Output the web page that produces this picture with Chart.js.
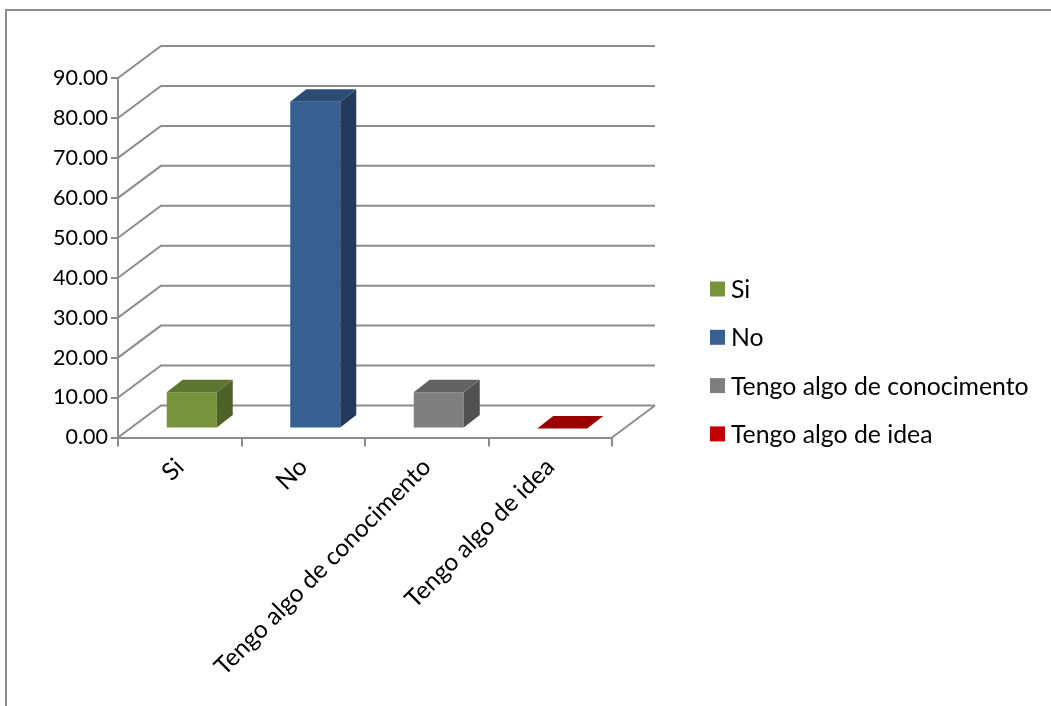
<!DOCTYPE html>
<html>
<head>
<meta charset="utf-8">
<script src="https://cdn.jsdelivr.net/npm/chart.js@4.4.0/dist/chart.umd.min.js"></script>
<style>
  html, body { margin: 0; padding: 0; background: #fff; overflow: hidden; }
</style>
</head>
<body>
<canvas id="chart" width="1051" height="706"></canvas>
<script>
/*global Chart */
const categories = ['Si', 'No', 'Tengo algo de conocimento', 'Tengo algo de idea']
const percentages = [9.09, 81.82, 9.09, 0]
const yTicks = [0, 10, 20, 30, 40, 50, 60, 70, 80, 90]

// front, top and side shading of each column
const frontColors = ['#77933C', '#366092', '#7F7F7F', '#C00000']
const topColors = ['#5D7431', '#2B4C75', '#636363', '#990000']
const sideColors = ['#4E6228', '#223B5C', '#515151', '#7A0000']

const FONT = 'Lato, "DejaVu Sans", sans-serif'
const LINE = '#8C8C8C'
const WALL = { dx: 43, dy: -32 }   // depth of the floor and walls
const FACE = { dx: 12, dy: -9 }    // columns stand a bit back from the front edge
const BOX = { dx: 16, dy: -12.5 }  // depth of each column
const LEGEND = { x: 710, y: 289, gap: 48.3, size: 15 }

const poly = (ctx, points) => {
  ctx.beginPath()
  points.forEach(([x, y], i) => i ? ctx.lineTo(x, y) : ctx.moveTo(x, y))
  ctx.closePath()
  ctx.fill()
}

const pseudo3d = {
  id: 'pseudo3d',
  beforeDraw(chart) {
    const ctx = chart.ctx
    ctx.save()
    ctx.strokeStyle = LINE
    ctx.lineWidth = 2
    ctx.beginPath()
    ctx.moveTo(6, chart.height)
    ctx.lineTo(6, 10)
    ctx.lineTo(chart.width, 10)
    ctx.stroke()
    ctx.restore()
  },
  beforeDatasetsDraw(chart) {
    const { ctx, chartArea: { left, right, bottom }, scales: { y } } = chart
    ctx.save()
    ctx.strokeStyle = LINE
    ctx.lineWidth = 2
    ctx.beginPath()
    yTicks.forEach(v => {
      const py = y.getPixelForValue(v)
      ctx.moveTo(left, py)
      ctx.lineTo(left + WALL.dx, py + WALL.dy)
      ctx.lineTo(right + WALL.dx, py + WALL.dy)
    })
    ctx.moveTo(right, bottom)
    ctx.lineTo(right + WALL.dx, bottom + WALL.dy)
    ctx.stroke()
    ctx.restore()

    // front faces get drawn by Chart.js inside this shifted frame
    ctx.save()
    ctx.translate(FACE.dx, FACE.dy)
  },
  afterDatasetsDraw(chart) {
    const ctx = chart.ctx
    chart.getDatasetMeta(0).data.forEach((bar, i) => {
      const x0 = bar.x - bar.width / 2
      const x1 = bar.x + bar.width / 2
      const top = bar.y
      const base = bar.base
      ctx.fillStyle = sideColors[i]
      poly(ctx, [[x1, top], [x1 + BOX.dx, top + BOX.dy], [x1 + BOX.dx, base + BOX.dy], [x1, base]])
      ctx.fillStyle = topColors[i]
      poly(ctx, [[x0, top], [x0 + BOX.dx, top + BOX.dy], [x1 + BOX.dx, top + BOX.dy], [x1, top]])
    })
    ctx.restore()
  },
  afterDraw(chart) {
    const ctx = chart.ctx
    ctx.save()
    ctx.font = `24.8px ${FONT}`
    ctx.textBaseline = 'middle'
    categories.forEach((label, i) => {
      const cy = LEGEND.y + i * LEGEND.gap
      ctx.fillStyle = frontColors[i]
      ctx.fillRect(LEGEND.x, cy - LEGEND.size / 2, LEGEND.size, LEGEND.size)
      ctx.fillStyle = '#000'
      ctx.fillText(label, LEGEND.x + 21, cy + 1)
    })
    ctx.restore()
  }
}

const createChart = () => new Chart(document.getElementById('chart'), {
  type: 'bar',
  data: {
    labels: categories,
    datasets: [{
      data: percentages,
      backgroundColor: frontColors,
      borderWidth: 0,
      barPercentage: 0.405,
      categoryPercentage: 1
    }]
  },
  options: {
    responsive: false,
    devicePixelRatio: 1,
    animation: false,
    layout: { padding: { left: 0, top: 78, right: 439, bottom: 0 } },
    plugins: { legend: { display: false }, tooltip: { enabled: false } },
    scales: {
      x: {
        afterFit: scale => { scale.height = 268.5 },
        grid: { drawOnChartArea: false, drawTicks: true, tickLength: 9, color: LINE, lineWidth: 2, offset: true },
        border: { display: true, color: LINE, width: 2 },
        ticks: { minRotation: 45, maxRotation: 45, padding: 6, color: '#000', font: { family: FONT, size: 24.5 } }
      },
      y: {
        min: 0,
        max: 90,
        afterFit: scale => { scale.width = 118 },
        grid: { drawOnChartArea: false, drawTicks: true, tickLength: 7, color: LINE, lineWidth: 2 },
        border: { display: true, color: LINE, width: 2 },
        ticks: { stepSize: 10, padding: 3, color: '#000', font: { family: FONT, size: 21.5 }, callback: v => v.toFixed(2) }
      }
    }
  },
  plugins: [pseudo3d]
})

document.fonts.load(`22px Lato`).then(createChart, createChart)
</script>
</body>
</html>
